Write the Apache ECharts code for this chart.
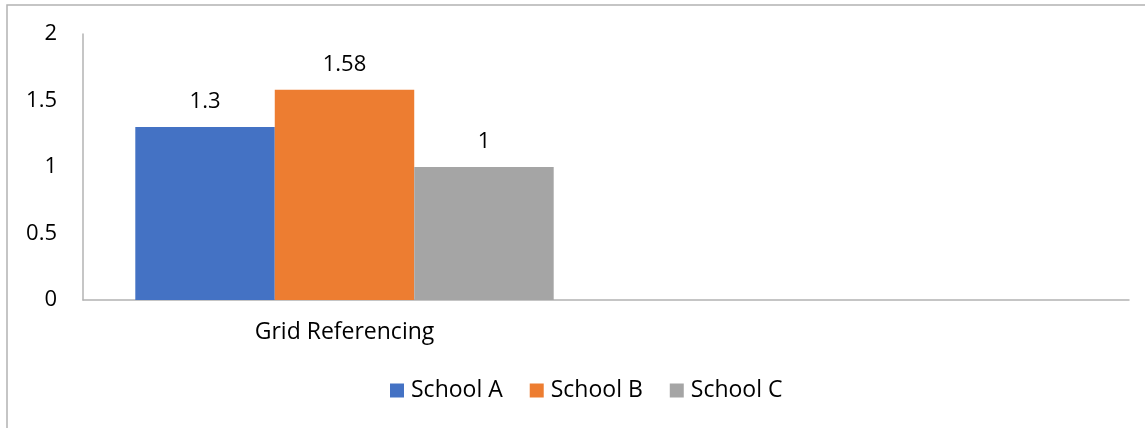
<!DOCTYPE html>
<html><head><meta charset="utf-8">
<script src="https://cdn.jsdelivr.net/npm/echarts@6/dist/echarts.min.js"></script>
<style>html,body{margin:0;padding:0;background:#fff}#c{width:1145px;height:428px}</style>
</head><body><div id="c"></div>
<script>
const categories = ['Grid Referencing', ''];
const schoolA = [1.3, null];
const schoolB = [1.58, null];
const schoolC = [1, null];
const seriesNames = ['School A', 'School B', 'School C'];
const colors = ['#4472C4', '#ED7D31', '#A5A5A5'];
const yTicks = {min: 0, max: 2, interval: 0.5};
const font = '"Open Sans", sans-serif';
const chart = echarts.init(document.getElementById('c'));
const mk = (name, data, color) => ({
  name, type: 'bar', data, barGap: '0%', barCategoryGap: '20%',
  itemStyle: {color},
  label: {show: true, position: 'top', distance: 14, color: '#000', fontSize: 22, fontFamily: font}
});
chart.setOption({
  animation: false,
  grid: {left: 83, right: 16, top: 34, bottom: 128, containLabel: false},
  graphic: [{type: 'rect', shape: {x: 7, y: 5, width: 1300, height: 600}, style: {fill: 'none', stroke: '#b3b3b3', lineWidth: 1.5}}],
  legend: {data: seriesNames, bottom: 21, left: 385, itemWidth: 14, itemHeight: 14, itemGap: 27,
    icon: 'rect', textStyle: {fontSize: 23, fontFamily: font, color: '#000', padding: [0,0,0,2]}},
  xAxis: {type: 'category', data: categories,
    axisLine: {lineStyle: {color: '#b3b3b3', width: 1.5}}, axisTick: {show: false},
    axisLabel: {color: '#000', fontSize: 23, fontFamily: font, margin: 21}},
  yAxis: {type: 'value', min: yTicks.min, max: yTicks.max, interval: yTicks.interval,
    axisLine: {show: true, lineStyle: {color: '#b3b3b3', width: 1.5}}, axisTick: {show: false}, splitLine: {show: false},
    axisLabel: {color: '#000', fontSize: 22, fontFamily: font, margin: 26}},
  series: [mk(seriesNames[0], schoolA, colors[0]), mk(seriesNames[1], schoolB, colors[1]), mk(seriesNames[2], schoolC, colors[2])]
});
</script></body></html>
